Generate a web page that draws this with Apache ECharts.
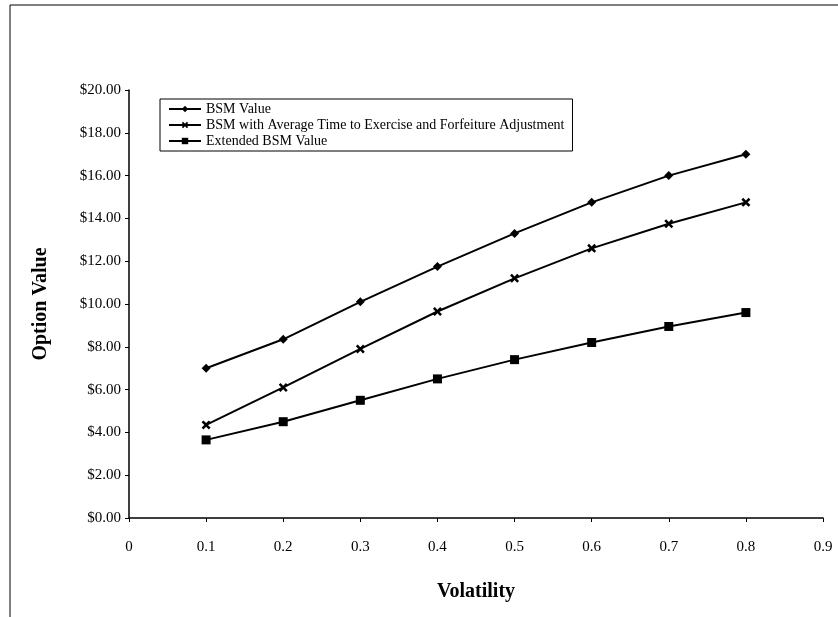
<!DOCTYPE html>
<html>
<head>
<meta charset="utf-8">
<script src="https://cdn.jsdelivr.net/npm/echarts@6/dist/echarts.min.js"></script>
<style>
  html, body { margin: 0; padding: 0; background: #fff; }
  #main { width: 838px; height: 617px; }
</style>
</head>
<body>
<div id="main"></div>
<script>
// 波动率（x轴）
const volatility = [0.1, 0.2, 0.3, 0.4, 0.5, 0.6, 0.7, 0.8]

// 三条曲线的数据
const bsmValue = [7.0, 8.35, 10.1, 11.75, 13.3, 14.75, 16.0, 17.0]
const bsmAdjusted = [4.35, 6.1, 7.9, 9.65, 11.2, 12.6, 13.75, 14.75]
const extendedBsm = [3.65, 4.5, 5.5, 6.5, 7.4, 8.2, 8.95, 9.6]

const seriesNames = [
  'BSM Value',
  'BSM with Average Time to Exercise and Forfeiture Adjustment',
  'Extended BSM Value'
]

// 叉形标记
const xSymbol = 'path://M0,2L2,0L5,3L8,0L10,2L7,5L10,8L8,10L5,7L2,10L0,8L3,5Z'

const font = 'Liberation Serif, Times New Roman, serif'

const myChart = echarts.init(document.querySelector('#main'))

function makeSeries(name, values, symbol, size) {
  return {
    name: name,
    type: 'line',
    data: volatility.map((v, i) => [v, values[i]]),
    symbol: symbol,
    symbolSize: size,
    showAllSymbol: true,
    lineStyle: { color: '#000', width: 2 },
    itemStyle: { color: '#000' },
    emphasis: { disabled: true },
    animation: false
  }
}

const option = {
  backgroundColor: '#fff',
  animation: false,
  grid: { left: 129, right: 15, top: 90, bottom: 99 },
  // 图例
  legend: {
    orient: 'vertical',
    left: 160,
    top: 99,
    width: 410,
    padding: [3, 8, 3, 8],
    itemGap: 2,
    itemWidth: 32,
    itemHeight: 8,
    borderColor: '#000',
    borderWidth: 1,
    backgroundColor: '#fff',
    textStyle: { fontFamily: font, fontSize: 14, lineHeight: 14, color: '#000' },
    data: seriesNames
  },
  xAxis: {
    type: 'value',
    min: 0,
    max: 0.9,
    interval: 0.1,
    name: 'Volatility',
    nameLocation: 'middle',
    nameGap: 64,
    nameTextStyle: { fontFamily: font, fontSize: 20, fontWeight: 'bold', color: '#000' },
    axisLine: { lineStyle: { color: '#000', width: 1.5 } },
    axisTick: { show: true, length: 4, inside: false, lineStyle: { color: '#000' } },
    axisLabel: {
      fontFamily: font, fontSize: 15, color: '#000', margin: 22,
      formatter: v => (v === 0 ? '0' : (+v.toFixed(1)).toString())
    },
    splitLine: { show: false }
  },
  yAxis: {
    type: 'value',
    min: 0,
    max: 20,
    interval: 2,
    name: 'Option Value',
    nameLocation: 'middle',
    nameGap: 78,
    nameRotate: 90,
    nameTextStyle: { fontFamily: font, fontSize: 20, fontWeight: 'bold', color: '#000' },
    axisLine: { show: true, lineStyle: { color: '#000', width: 1.5 } },
    axisTick: { show: true, length: 4, lineStyle: { color: '#000' } },
    axisLabel: {
      fontFamily: font, fontSize: 15, color: '#000', margin: 8,
      formatter: v => '$' + v.toFixed(2)
    },
    splitLine: { show: false }
  },
  series: [
    makeSeries(seriesNames[0], bsmValue, 'diamond', 9),
    makeSeries(seriesNames[1], bsmAdjusted, xSymbol, 9),
    makeSeries(seriesNames[2], extendedBsm, 'rect', 9)
  ],
  // 外框（扫描件残留的边线）
  graphic: [
    { type: 'line', shape: { x1: 10, y1: 5, x2: 838, y2: 5 }, style: { stroke: '#000', lineWidth: 1 } },
    { type: 'line', shape: { x1: 10, y1: 5, x2: 10, y2: 617 }, style: { stroke: '#000', lineWidth: 1 } }
  ]
}

myChart.setOption(option)
</script>
</body>
</html>
